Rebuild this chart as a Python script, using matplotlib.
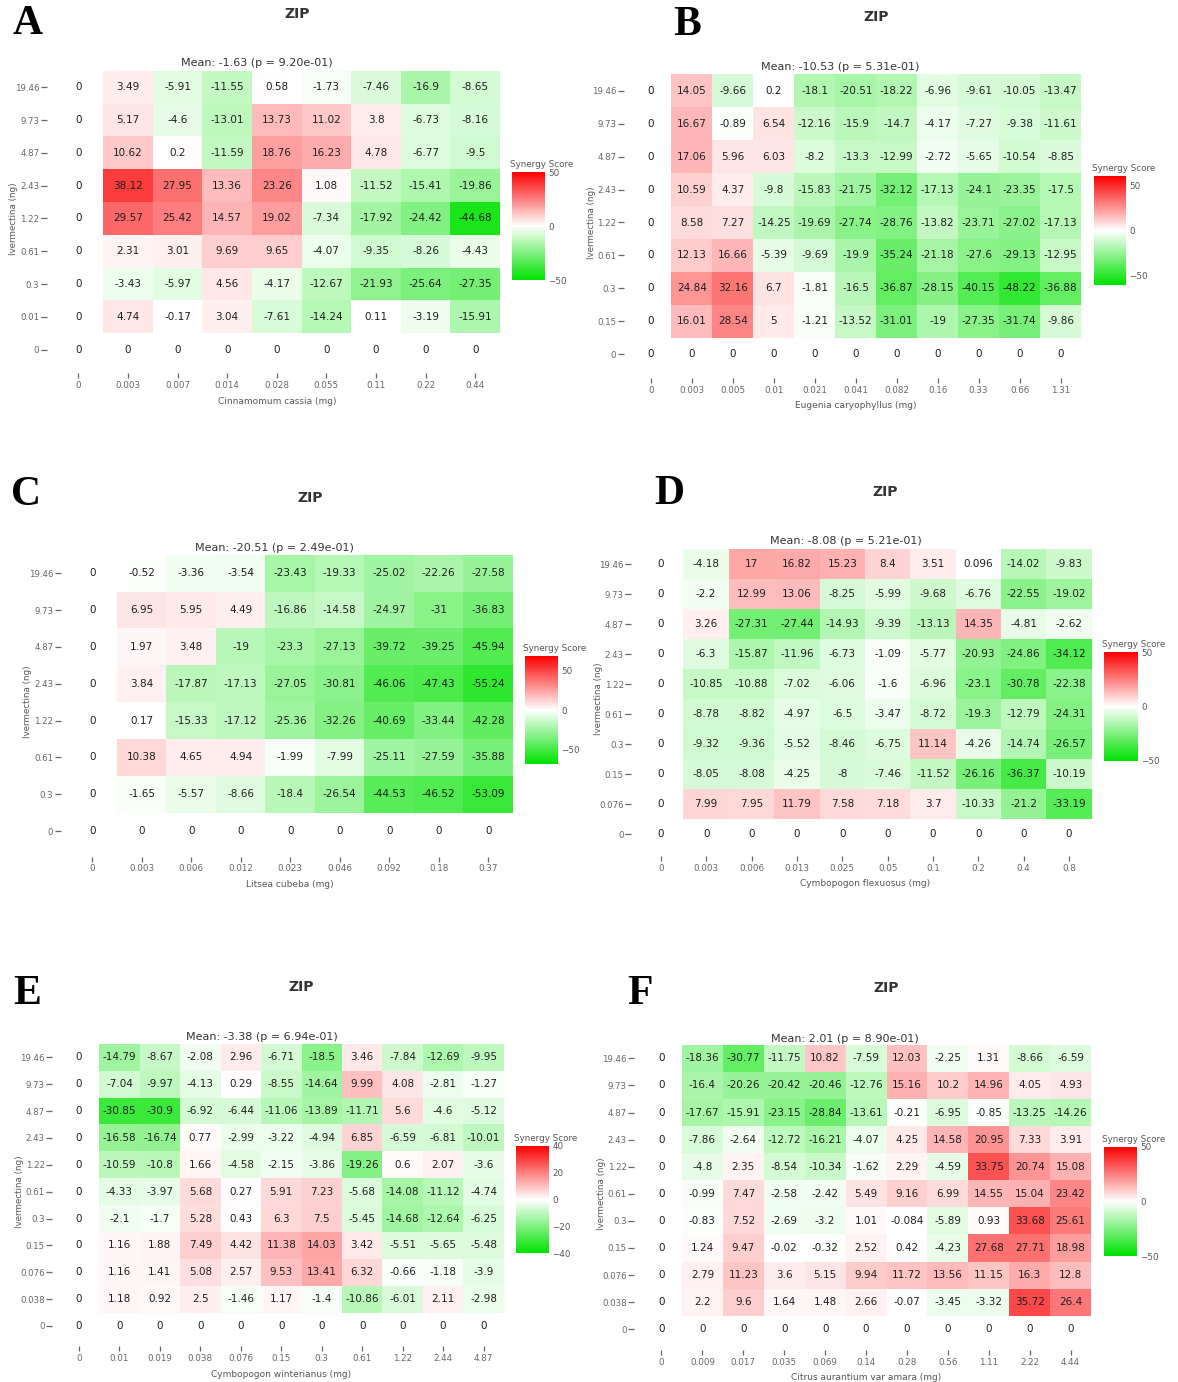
import numpy as np
import matplotlib
matplotlib.use("Agg")
import matplotlib.pyplot as plt
from matplotlib.colors import LinearSegmentedColormap, Normalize

plt.rcParams['font.family'] = ['DejaVu Sans']

# ---------------------------------------------------------------- data
ivermectin_a = [19.46, 9.73, 4.87, 2.43, 1.22, 0.61, 0.3, 0.01, 0]
cassia_mg = [0, 0.003, 0.007, 0.014, 0.028, 0.055, 0.11, 0.22, 0.44]
zip_a = [
    [3.49, -5.91, -11.55, 0.58, -1.73, -7.46, -16.9, -8.65],
    [5.17, -4.6, -13.01, 13.73, 11.02, 3.8, -6.73, -8.16],
    [10.62, 0.2, -11.59, 18.76, 16.23, 4.78, -6.77, -9.5],
    [38.12, 27.95, 13.36, 23.26, 1.08, -11.52, -15.41, -19.86],
    [29.57, 25.42, 14.57, 19.02, -7.34, -17.92, -24.42, -44.68],
    [2.31, 3.01, 9.69, 9.65, -4.07, -9.35, -8.26, -4.43],
    [-3.43, -5.97, 4.56, -4.17, -12.67, -21.93, -25.64, -27.35],
    [4.74, -0.17, 3.04, -7.61, -14.24, 0.11, -3.19, -15.91],
]
mean_a, p_a = -1.63, 9.20e-01

ivermectin_b = [19.46, 9.73, 4.87, 2.43, 1.22, 0.61, 0.3, 0.15, 0]
eugenia_mg = [0, 0.003, 0.005, 0.01, 0.021, 0.041, 0.082, 0.16, 0.33, 0.66, 1.31]
zip_b = [
    [14.05, -9.66, 0.2, -18.1, -20.51, -18.22, -6.96, -9.61, -10.05, -13.47],
    [16.67, -0.89, 6.54, -12.16, -15.9, -14.7, -4.17, -7.27, -9.38, -11.61],
    [17.06, 5.96, 6.03, -8.2, -13.3, -12.99, -2.72, -5.65, -10.54, -8.85],
    [10.59, 4.37, -9.8, -15.83, -21.75, -32.12, -17.13, -24.1, -23.35, -17.5],
    [8.58, 7.27, -14.25, -19.69, -27.74, -28.76, -13.82, -23.71, -27.02, -17.13],
    [12.13, 16.66, -5.39, -9.69, -19.9, -35.24, -21.18, -27.6, -29.13, -12.95],
    [24.84, 32.16, 6.7, -1.81, -16.5, -36.87, -28.15, -40.15, -48.22, -36.88],
    [16.01, 28.54, 5, -1.21, -13.52, -31.01, -19, -27.35, -31.74, -9.86],
]
mean_b, p_b = -10.53, 5.31e-01

ivermectin_c = [19.46, 9.73, 4.87, 2.43, 1.22, 0.61, 0.3, 0]
litsea_mg = [0, 0.003, 0.006, 0.012, 0.023, 0.046, 0.092, 0.18, 0.37]
zip_c = [
    [-0.52, -3.36, -3.54, -23.43, -19.33, -25.02, -22.26, -27.58],
    [6.95, 5.95, 4.49, -16.86, -14.58, -24.97, -31, -36.83],
    [1.97, 3.48, -19, -23.3, -27.13, -39.72, -39.25, -45.94],
    [3.84, -17.87, -17.13, -27.05, -30.81, -46.06, -47.43, -55.24],
    [0.17, -15.33, -17.12, -25.36, -32.26, -40.69, -33.44, -42.28],
    [10.38, 4.65, 4.94, -1.99, -7.99, -25.11, -27.59, -35.88],
    [-1.65, -5.57, -8.66, -18.4, -26.54, -44.53, -46.52, -53.09],
]
mean_c, p_c = -20.51, 2.49e-01

ivermectin_d = [19.46, 9.73, 4.87, 2.43, 1.22, 0.61, 0.3, 0.15, 0.076, 0]
flexuosus_mg = [0, 0.003, 0.006, 0.013, 0.025, 0.05, 0.1, 0.2, 0.4, 0.8]
zip_d = [
    [-4.18, 17, 16.82, 15.23, 8.4, 3.51, 0.096, -14.02, -9.83],
    [-2.2, 12.99, 13.06, -8.25, -5.99, -9.68, -6.76, -22.55, -19.02],
    [3.26, -27.31, -27.44, -14.93, -9.39, -13.13, 14.35, -4.81, -2.62],
    [-6.3, -15.87, -11.96, -6.73, -1.09, -5.77, -20.93, -24.86, -34.12],
    [-10.85, -10.88, -7.02, -6.06, -1.6, -6.96, -23.1, -30.78, -22.38],
    [-8.78, -8.82, -4.97, -6.5, -3.47, -8.72, -19.3, -12.79, -24.31],
    [-9.32, -9.36, -5.52, -8.46, -6.75, 11.14, -4.26, -14.74, -26.57],
    [-8.05, -8.08, -4.25, -8, -7.46, -11.52, -26.16, -36.37, -10.19],
    [7.99, 7.95, 11.79, 7.58, 7.18, 3.7, -10.33, -21.2, -33.19],
]
mean_d, p_d = -8.08, 5.21e-01

ivermectin_e = [19.46, 9.73, 4.87, 2.43, 1.22, 0.61, 0.3, 0.15, 0.076, 0.038, 0]
winterianus_mg = [0, 0.01, 0.019, 0.038, 0.076, 0.15, 0.3, 0.61, 1.22, 2.44, 4.87]
zip_e = [
    [-14.79, -8.67, -2.08, 2.96, -6.71, -18.5, 3.46, -7.84, -12.69, -9.95],
    [-7.04, -9.97, -4.13, 0.29, -8.55, -14.64, 9.99, 4.08, -2.81, -1.27],
    [-30.85, -30.9, -6.92, -6.44, -11.06, -13.89, -11.71, 5.6, -4.6, -5.12],
    [-16.58, -16.74, 0.77, -2.99, -3.22, -4.94, 6.85, -6.59, -6.81, -10.01],
    [-10.59, -10.8, 1.66, -4.58, -2.15, -3.86, -19.26, 0.6, 2.07, -3.6],
    [-4.33, -3.97, 5.68, 0.27, 5.91, 7.23, -5.68, -14.08, -11.12, -4.74],
    [-2.1, -1.7, 5.28, 0.43, 6.3, 7.5, -5.45, -14.68, -12.64, -6.25],
    [1.16, 1.88, 7.49, 4.42, 11.38, 14.03, 3.42, -5.51, -5.65, -5.48],
    [1.16, 1.41, 5.08, 2.57, 9.53, 13.41, 6.32, -0.66, -1.18, -3.9],
    [1.18, 0.92, 2.5, -1.46, 1.17, -1.4, -10.86, -6.01, 2.11, -2.98],
]
mean_e, p_e = -3.38, 6.94e-01

ivermectin_f = [19.46, 9.73, 4.87, 2.43, 1.22, 0.61, 0.3, 0.15, 0.076, 0.038, 0]
aurantium_mg = [0, 0.009, 0.017, 0.035, 0.069, 0.14, 0.28, 0.56, 1.11, 2.22, 4.44]
zip_f = [
    [-18.36, -30.77, -11.75, 10.82, -7.59, 12.03, -2.25, 1.31, -8.66, -6.59],
    [-16.4, -20.26, -20.42, -20.46, -12.76, 15.16, 10.2, 14.96, 4.05, 4.93],
    [-17.67, -15.91, -23.15, -28.84, -13.61, -0.21, -6.95, -0.85, -13.25, -14.26],
    [-7.86, -2.64, -12.72, -16.21, -4.07, 4.25, 14.58, 20.95, 7.33, 3.91],
    [-4.8, 2.35, -8.54, -10.34, -1.62, 2.29, -4.59, 33.75, 20.74, 15.08],
    [-0.99, 7.47, -2.58, -2.42, 5.49, 9.16, 6.99, 14.55, 15.04, 23.42],
    [-0.83, 7.52, -2.69, -3.2, 1.01, -0.084, -5.89, 0.93, 33.68, 25.61],
    [1.24, 9.47, -0.02, -0.32, 2.52, 0.42, -4.23, 27.68, 27.71, 18.98],
    [2.79, 11.23, 3.6, 5.15, 9.94, 11.72, 13.56, 11.15, 16.3, 12.8],
    [2.2, 9.6, 1.64, 1.48, 2.66, -0.07, -3.45, -3.32, 35.72, 26.4],
]
mean_f, p_f = 2.01, 8.90e-01

color_limits = [50, 60, 68, 50, 40, 50]
cbar_ticks = [[-50, 0, 50], [-50, 0, 50], [-50, 0, 50], [-50, 0, 50],
              [-40, -20, 0, 20, 40], [-50, 0, 50]]

# ---------------------------------------------------------------- layout (pixels)
W, H = 1178, 1382
fig = plt.figure(figsize=(W / 100, H / 100), dpi=100, facecolor="white")
PT = 0.72  # points per pixel at 100 dpi

# odd number of levels so that a score of 0 lands on pure white
cmap = LinearSegmentedColormap.from_list("synergy", ["#00e200", "#ffffff", "#fa0000"], N=257)

panels = [
    dict(letter="A", drug="Cinnamomum cassia (mg)", xc=cassia_mg, yc=ivermectin_a,
         z=zip_a, mean=mean_a, p=p_a,
         grid=(53.5, 500, 70.9, 366), cbar=(512, 545, 172, 280),
         mean_xy=(257, 63), letter_xy=(13, 24)),
    dict(letter="B", drug="Eugenia caryophyllus (mg)", xc=eugenia_mg, yc=ivermectin_b,
         z=zip_b, mean=mean_b, p=p_b,
         grid=(630.5, 1081, 74.2, 370.8), cbar=(1094, 1126, 176, 285),
         mean_xy=(840, 67), letter_xy=(673, 25)),
    dict(letter="C", drug="Litsea cubeba (mg)", xc=litsea_mg, yc=ivermectin_c,
         z=zip_c, mean=mean_c, p=p_c,
         grid=(67.4, 512.9, 554.8, 849.5), cbar=(525, 558, 656, 764),
         mean_xy=(274, 548), letter_xy=(11, 495)),
    dict(letter="D", drug="Cymbopogon flexuosus (mg)", xc=flexuosus_mg, yc=ivermectin_d,
         z=zip_d, mean=mean_d, p=p_d,
         grid=(638.1, 1091.8, 549.3, 849), cbar=(1104, 1138, 652, 761),
         mean_xy=(846, 541.5), letter_xy=(654, 494.5)),
    dict(letter="E", drug="Cymbopogon winterianus (mg)", xc=winterianus_mg, yc=ivermectin_e,
         z=zip_e, mean=mean_e, p=p_e,
         grid=(58.8, 503.8, 1043.9, 1339.4), cbar=(515.6, 548.7, 1145.7, 1253.3),
         mean_xy=(262, 1037.5), letter_xy=(13, 994)),
    dict(letter="F", drug="Citrus aurantium var amara (mg)", xc=aurantium_mg, yc=ivermectin_f,
         z=zip_f, mean=mean_f, p=p_f,
         grid=(641, 1091.1, 1044.8, 1342.8), cbar=(1104, 1136.5, 1146.7, 1256),
         mean_xy=(845, 1039), letter_xy=(627.6, 994.5)),
]


def fx(x):
    return x / W


def fy(y):
    return 1 - y / H


tick_grey = "#666666"

for k, pn in enumerate(panels):
    xc, yc = pn["xc"], pn["yc"]
    nx, ny = len(xc), len(yc)
    # full matrix: zero column for ivermectin alone, zero row for the oil alone
    inner = np.array(pn["z"], dtype=float)
    full = np.zeros((ny, nx))
    full[: ny - 1, 1:] = inner

    x0, x1, y0, y1 = pn["grid"]
    ax = fig.add_axes([fx(x0), fy(y1), (x1 - x0) / W, (y1 - y0) / H])
    ax.set_facecolor("white")
    lim = color_limits[k]
    norm = Normalize(vmin=-lim, vmax=lim)
    mesh = ax.pcolormesh(np.arange(nx + 1), np.arange(ny + 1), full, cmap=cmap,
                         norm=norm, shading="flat", antialiased=False, edgecolors="none")
    ax.set_xlim(0, nx)
    ax.set_ylim(ny, 0)

    for i in range(ny):
        for j in range(nx):
            ax.text(j + 0.5, i + 0.5, f"{full[i, j]:g}", ha="center", va="center",
                    fontsize=7.5, color="#1e1e1e")

    ax.set_xticks(np.arange(nx) + 0.5)
    ax.set_xticklabels([f"{v:g}" for v in xc])
    ax.set_yticks(np.arange(ny) + 0.5)
    ax.set_yticklabels([f"{v:g}" for v in yc])
    for s in ax.spines.values():
        s.set_visible(False)
    ax.spines["left"].set_position(("outward", 6.8 * PT))
    ax.spines["bottom"].set_position(("outward", 7 * PT))
    ax.tick_params(axis="y", length=6.5 * PT, width=0.9, color=tick_grey,
                   pad=0.6, labelsize=6.2, labelcolor=tick_grey)
    ax.tick_params(axis="x", length=5 * PT, width=0.9, color=tick_grey,
                   pad=2, labelsize=6.3, labelcolor=tick_grey)

    # axis titles
    gx = (x0 + x1) / 2
    fig.text(fx(gx), fy(y1 + 35), pn["drug"], ha="center", va="center",
             fontsize=6.5, color="#555555")
    fig.text(fx(x0 - 39.5), fy((y0 + y1) / 2), "Ivermectina (ng)", rotation=90,
             ha="center", va="center", fontsize=6.3, color="#555555")

    # mean synergy line and method name
    mx, my = pn["mean_xy"]
    fig.text(fx(mx), fy(my), f"Mean: {pn['mean']:.2f} (p = {pn['p']:.2e})",
             ha="center", va="center", fontsize=8, color="#333333")
    fig.text(fx(gx + 20), fy(y0 - 57), "ZIP", ha="center", va="center",
             fontsize=10, fontweight="bold", color="#333333")

    # panel letter
    lx, ly = pn["letter_xy"]
    fig.text(fx(lx), fy(ly), pn["letter"], ha="left", va="center", fontsize=30,
             fontweight="bold", family="Liberation Serif", color="black")

    # colour bar
    c0, c1, cy0, cy1 = pn["cbar"]
    cax = fig.add_axes([fx(c0), fy(cy1), (c1 - c0) / W, (cy1 - cy0) / H])
    cb = fig.colorbar(mesh, cax=cax, ticks=cbar_ticks[k])
    cb.outline.set_visible(False)
    cax.tick_params(length=0, pad=2.5, labelsize=6.3, labelcolor="#555555")
    fig.text(fx(c0 - 2), fy(cy0 - 3), "Synergy Score", ha="left", va="bottom",
             fontsize=6.3, color="#555555")

fig.savefig("out.png", dpi=100, facecolor="white")
